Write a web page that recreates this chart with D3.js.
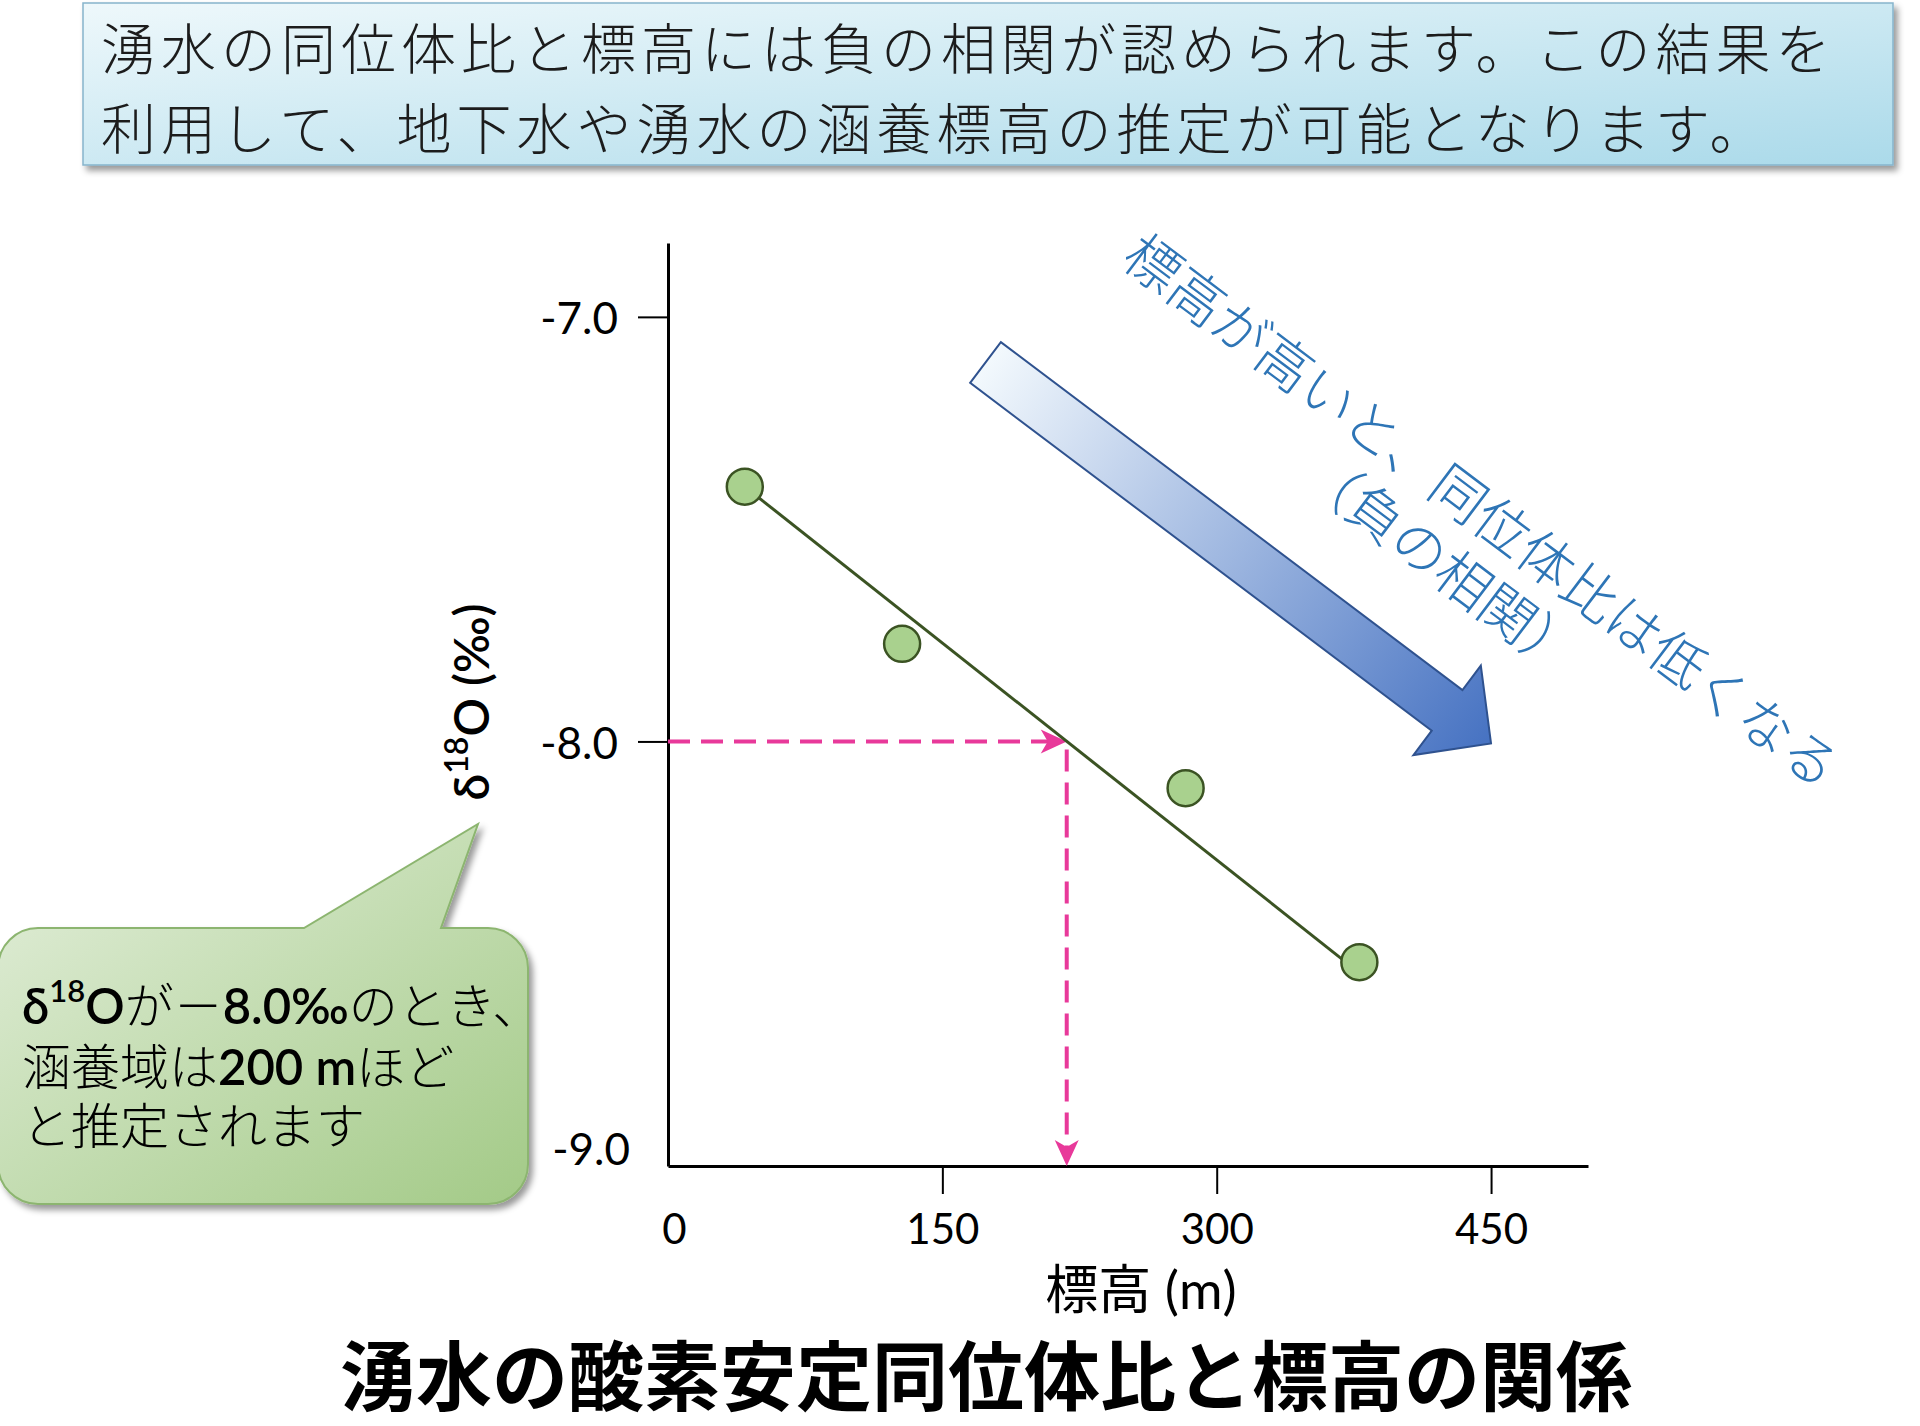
<!DOCTYPE html>
<html><head><meta charset="utf-8">
<script src="https://cdn.jsdelivr.net/npm/d3@7"></script>
<style>html,body{margin:0;padding:0;background:#fff;} svg{display:block;}</style>
</head><body>
<svg id="chart" width="1920" height="1426"></svg>
<script>
// ---------- data ----------
const headerLines = ["湧水の同位体比と標高には負の相関が認められます。この結果を",
                     "利用して、地下水や湧水の涵養標高の推定が可能となります。"];
const chartTitle = "湧水の酸素安定同位体比と標高の関係";
const xAxisTitle = "標高 (m)";
const elevation = [42, 128, 283, 378];          // m
const delta18O  = [-7.40, -7.77, -8.11, -8.52];  // ‰
const trendElevation = [42, 378];
const trendDelta = [-7.40, -8.545];
const estimateElevation = 218;
const estimateDelta = -8.0;
const xTicks = [0, 150, 300, 450];
const yTicks = [-7.0, -8.0, -9.0];
const xDomain = [0, 503];
const yDomain = [-9, -6.826];
const trendNote = ["標高が高いと、同位体比は低くなる", "（負の相関）"];

// ---------- setup ----------
const FONT = "Lato, 'Noto Sans CJK JP', sans-serif";
const CJK = "'Noto Sans CJK JP', sans-serif";
const svg = d3.select("#chart");
const defs = svg.append("defs");

const sh = defs.append("filter").attr("id","shadow").attr("x","-10%").attr("y","-10%").attr("width","130%").attr("height","140%");
sh.append("feDropShadow").attr("dx",4).attr("dy",5).attr("stdDeviation",3).attr("flood-color","#000").attr("flood-opacity",0.4);

const gHead = defs.append("linearGradient").attr("id","gHead").attr("x1",0).attr("y1",0).attr("x2",1).attr("y2",1);
gHead.append("stop").attr("offset",0).attr("stop-color","#EEF8FB");
gHead.append("stop").attr("offset",1).attr("stop-color","#ABDAEA");

const gBub = defs.append("linearGradient").attr("id","gBub").attr("x1",0).attr("y1",0).attr("x2",1).attr("y2",1);
gBub.append("stop").attr("offset",0).attr("stop-color","#E4EFDC");
gBub.append("stop").attr("offset",1).attr("stop-color","#A3CA87");

const gArr = defs.append("linearGradient").attr("id","gArr").attr("x1",0).attr("y1",0).attr("x2",1).attr("y2",0);
gArr.append("stop").attr("offset",0).attr("stop-color","#F3F9FD");
gArr.append("stop").attr("offset",1).attr("stop-color","#4672C2");

// ---------- header box ----------
svg.append("rect").attr("x",83).attr("y",3).attr("width",1810).attr("height",162)
  .attr("fill","url(#gHead)").attr("stroke","#86B4CC").attr("stroke-width",1.5)
  .attr("filter","url(#shadow)");
svg.selectAll("text.head").data(headerLines).join("text").attr("class","head")
  .attr("x",101).attr("y",(d,i)=>45+i*80).attr("dominant-baseline","central")
  .attr("font-family",CJK).attr("font-size",55).attr("font-weight",300)
  .attr("letter-spacing",5).attr("fill","#1c1c1c").text(d=>d);

// ---------- scales & axes ----------
const x = d3.scaleLinear().domain(xDomain).range([668,1588]);
const y = d3.scaleLinear().domain(yDomain).range([1166,243]);

const gx = svg.append("g").attr("transform",`translate(0,${y(yDomain[0])})`)
  .call(d3.axisBottom(x).tickValues(xTicks).tickSize(28).tickSizeOuter(0).tickFormat(d=>String(d)));
gx.select(".domain").attr("stroke","#000").attr("stroke-width",3);
gx.selectAll(".tick line").attr("stroke","#000").attr("stroke-width",2).attr("display",d=>d===0?"none":null);
gx.selectAll(".tick text").attr("y",62).attr("dy",null).attr("dominant-baseline","central")
  .attr("x",d=>d===0?6:0)
  .attr("font-family",FONT).attr("font-size",42).attr("fill","#000");

const gy = svg.append("g").attr("transform",`translate(${x(0)},0)`)
  .call(d3.axisLeft(y).tickValues(yTicks).tickSize(30).tickSizeOuter(0).tickFormat(d=>d.toFixed(1)));
gy.select(".domain").attr("stroke","#000").attr("stroke-width",3);
gy.selectAll(".tick line").attr("stroke","#000").attr("stroke-width",2).attr("display",d=>d===-9?"none":null);
gy.selectAll(".tick text").attr("x",d=>d===-9?-38:-50).attr("dy",null).attr("y",d=>d===-9?-19:0)
  .attr("dominant-baseline","central")
  .attr("font-family",FONT).attr("font-size",44).attr("fill","#000");

// axis titles
svg.append("text").attr("x",1141).attr("y",1288).attr("text-anchor","middle").attr("dominant-baseline","central")
  .attr("font-family",FONT).attr("font-size",53).attr("fill","#000").text(xAxisTitle);
const yt = svg.append("text").attr("transform","translate(470,702) rotate(-90)").attr("text-anchor","middle")
  .attr("dominant-baseline","central").attr("font-family",FONT).attr("font-size",48).attr("font-weight",600).attr("fill","#000");
yt.append("tspan").text("δ");
yt.append("tspan").attr("font-size",32).attr("dy",-15).text("18");
yt.append("tspan").attr("dy",15).text("O (‰)");

// ---------- estimate dashed arrows ----------
const PINK = "#E8399A";
const ex = x(estimateElevation), ey = y(estimateDelta);
svg.append("line").attr("x1",x(0)).attr("y1",ey).attr("x2",ex-18).attr("y2",ey)
  .attr("stroke",PINK).attr("stroke-width",4).attr("stroke-dasharray","22,11");
svg.append("line").attr("x1",ex).attr("y1",ey+8).attr("x2",ex).attr("y2",y(yDomain[0])-18)
  .attr("stroke",PINK).attr("stroke-width",4).attr("stroke-dasharray","22,11");
const head = "M0,0 L-26,-12 L-19,0 L-26,12 Z";
svg.append("path").attr("d",head).attr("fill",PINK).attr("transform",`translate(${ex},${ey})`);
svg.append("path").attr("d",head).attr("fill",PINK).attr("transform",`translate(${ex},${y(yDomain[0])}) rotate(90)`);

// ---------- trend line & points ----------
svg.append("path")
  .datum(trendElevation.map((e,i)=>[e,trendDelta[i]]))
  .attr("d",d3.line().x(d=>x(d[0])).y(d=>y(d[1])))
  .attr("fill","none").attr("stroke","#3B5323").attr("stroke-width",3);
svg.selectAll("circle.pt").data(elevation.map((e,i)=>({e,v:delta18O[i]}))).join("circle")
  .attr("class","pt").attr("cx",d=>x(d.e)).attr("cy",d=>y(d.v)).attr("r",18)
  .attr("fill","#A9D18E").attr("stroke","#3B5323").attr("stroke-width",2.5);

// ---------- big gradient arrow ----------
const ga = svg.append("g").attr("transform","translate(985.5,362.5) rotate(37)");
ga.append("path").attr("d","M0,-25.5 L578,-25.5 L578,-56 L633,0 L578,56 L578,25.5 L0,25.5 Z")
  .attr("fill","url(#gArr)").attr("stroke","#2F528F").attr("stroke-width",2).attr("stroke-linejoin","miter");

const gt = svg.append("g").attr("transform","translate(1484,508) rotate(37)");
gt.selectAll("text").data(trendNote).join("text")
  .attr("x",0).attr("y",(d,i)=>i*66).attr("text-anchor","middle").attr("dominant-baseline","central")
  .attr("font-family",CJK).attr("font-size",55).attr("font-weight",300).attr("fill","#2E75B6").text(d=>d);

// ---------- callout bubble ----------
const bx0=-2, by0=928, bx1=528, by1=1204, r=40;
const bubblePath = `M${bx0+r},${by0} L304,${by0} L478,824 L441,${by0} L${bx1-r},${by0}
 A${r},${r} 0 0 1 ${bx1},${by0+r} L${bx1},${by1-r} A${r},${r} 0 0 1 ${bx1-r},${by1}
 L${bx0+r},${by1} A${r},${r} 0 0 1 ${bx0},${by1-r} L${bx0},${by0+r} A${r},${r} 0 0 1 ${bx0+r},${by0} Z`;
svg.append("path").attr("d",bubblePath).attr("fill","url(#gBub)").attr("stroke","#8CB56F").attr("stroke-width",2)
  .attr("filter","url(#shadow)");
const bt = svg.append("text").attr("font-family",FONT).attr("font-size",49).attr("font-weight",300).attr("fill","#000");
const l1 = bt.append("tspan").attr("x",22).attr("y",1005).attr("dominant-baseline","central");
l1.append("tspan").attr("font-weight",600).text("δ");
l1.append("tspan").attr("font-weight",600).attr("font-size",31).attr("dy",-15).text("18");
l1.append("tspan").attr("font-weight",600).attr("dy",15).text("O");
l1.append("tspan").text("が－");
l1.append("tspan").attr("font-weight",600).text("8.0‰");
l1.append("tspan").text("のとき、");
const l2 = bt.append("tspan").attr("x",22).attr("y",1066).attr("dominant-baseline","central");
l2.append("tspan").text("涵養域は");
l2.append("tspan").attr("font-weight",600).text("200 m");
l2.append("tspan").text("ほど");
bt.append("tspan").attr("x",22).attr("y",1125).attr("dominant-baseline","central").text("と推定されます");

// ---------- bottom title ----------
svg.append("text").attr("x",986).attr("y",1372).attr("text-anchor","middle").attr("dominant-baseline","central")
  .attr("font-family",CJK).attr("font-size",76).attr("font-weight",700).attr("fill","#000").text(chartTitle);
</script>
</body></html>
